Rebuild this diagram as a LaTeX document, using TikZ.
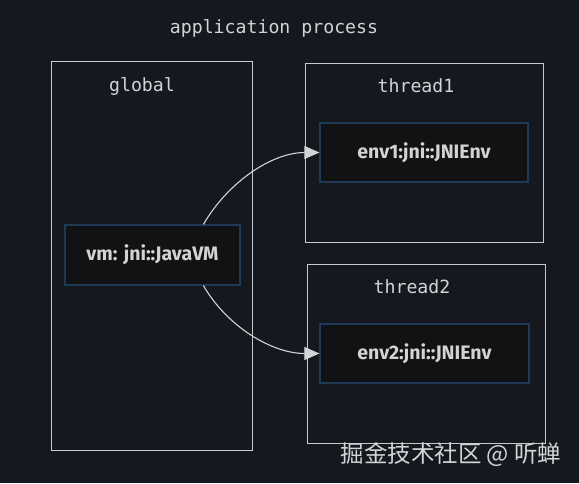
\documentclass[tikz,border=0pt]{standalone}
\usepackage{fontspec}
\usepackage{tikz}
\usetikzlibrary{arrows.meta}
\newfontfamily\monofont{DejaVu Sans Mono}
\newfontfamily\boxfont{Fira Sans}
\newfontfamily\cjkfont{Noto Sans CJK SC}
\definecolor{bgcol}{HTML}{15181E}
\definecolor{linecol}{HTML}{C8C9CB}
\definecolor{txtcol}{HTML}{D2D3D5}
\definecolor{objfill}{HTML}{111213}
\definecolor{objline}{HTML}{1E3A56}

\begin{document}
\begin{tikzpicture}[x=1pt, y=-1pt,
    objbox/.style={draw=objline, line width=1.2pt, fill=objfill, text=txtcol,
        font=\boxfont\fontsize{19.5}{22}\selectfont\bfseries},
    lbl/.style={text=txtcol, font=\monofont\fontsize{18.2}{21}\selectfont},
    link/.style={draw=txtcol, line width=1.1pt, -{Triangle[length=15pt,width=13pt]}}]
    % --- background and bounds ---
    \fill[bgcol] (0,0) rectangle (579,483);
    \useasboundingbox (0,0) rectangle (579,483);

    \node[lbl] (title) at (274,28) {application process};

    % --- global ---
    \draw[linecol, line width=1pt] (51,61) rectangle (252,450);
    \node[lbl] (global) at (142,86) {global};
    \node[objbox, minimum width=175pt, minimum height=60pt] (vm) at (152.5,255) {vm: jni::JavaVM};

    % --- thread1 ---
    \draw[linecol, line width=1pt] (305,63) rectangle (543,242);
    \node[lbl] (t1) at (416,86) {thread1};
    \node[objbox, minimum width=208pt, minimum height=59pt] (env1) at (424,152.5) {env1:jni::JNIEnv};

    % --- thread2 ---
    \draw[linecol, line width=1pt] (307,264) rectangle (545,443);
    \node[lbl] (t2) at (412,287) {thread2};
    \node[objbox, minimum width=209pt, minimum height=59pt] (env2) at (424.5,353.5) {env2:jni::JNIEnv};

    % --- links ---
    \draw[link] (vm.31) to[out=60, in=180, looseness=0.9] (env1.west);
    \draw[link] (vm.-31) to[out=-60, in=180, looseness=0.9] (env2.west);

    \node[text=txtcol, font=\cjkfont\fontsize{23.5}{26}\selectfont] (mark) at (451,455) {掘金技术社区 @ 听蝉};
\end{tikzpicture}
\end{document}
